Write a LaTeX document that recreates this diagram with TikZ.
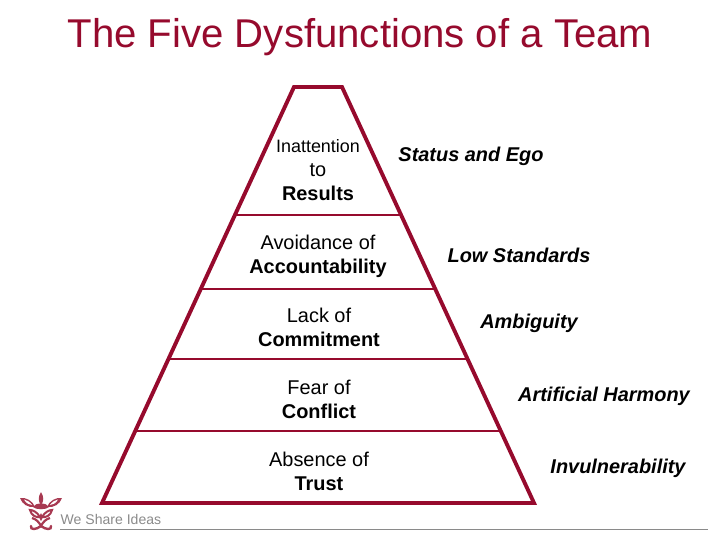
\documentclass[tikz,border=0pt]{standalone}
\usepackage{fontspec}
\setmainfont{Liberation Sans}
\definecolor{crim}{HTML}{960A2D}
\definecolor{logoc}{HTML}{A83A52}
\definecolor{greyt}{HTML}{8A8A8A}
\tikzset{
  wall/.style={draw=crim,line width=3.9pt,line join=miter},
  tier/.style={draw=crim,line width=2.9pt},
  lab/.style={align=center,font=\fontsize{20}{24}\selectfont,text=black,inner sep=0pt},
  side/.style={font=\fontsize{20}{24}\selectfont\bfseries\itshape,text=black,inner sep=0pt,anchor=base},
  petal/.style={fill=logoc,draw=none},
}
\begin{document}
\begin{tikzpicture}[x=1bp,y=-1bp]
\useasboundingbox (0,0) rectangle (720,540);
\node[font=\fontsize{40.3}{44}\selectfont,text=crim,inner sep=0pt] (title) at (360,37.5) {The Five Dysfunctions of a Team};
\coordinate (tl) at (294,87);
\coordinate (tr) at (342,87);
\coordinate (br) at (534,503);
\coordinate (bl) at (102,503);
\draw[wall] (tl) -- (tr) -- (br) -- (bl) -- cycle;
\coordinate (a1) at (236,215); \coordinate (a2) at (400,215);
\coordinate (b1) at (202,289); \coordinate (b2) at (434,289);
\coordinate (c1) at (169,359); \coordinate (c2) at (466,359);
\coordinate (d1) at (136,431); \coordinate (d2) at (499,431);
\draw[tier] (a1) -- (a2);
\draw[tier] (b1) -- (b2);
\draw[tier] (c1) -- (c2);
\draw[tier] (d1) -- (d2);
\node[lab] (n1) at (318,170.5) {{\fontsize{18}{24}\selectfont Inattention}\\to\\\textbf{Results}};
\node[lab] (n2) at (318,256.5) {Avoidance of\\\textbf{Accountability}};
\node[lab] (n3) at (319,327) {Lack of\\\textbf{Commitment}};
\node[lab] (n4) at (319,399) {Fear of\\\textbf{Conflict}};
\node[lab] (n5) at (319,471) {Absence of\\\textbf{Trust}};
\node[side] (s1) at (471,161.5) {Status and Ego};
\node[side] (s2) at (519,262.5) {Low Standards};
\node[side] (s3) at (529,328.5) {Ambiguity};
\node[side] (s4) at (604,401.5) {Artificial Harmony};
\node[side] (s5) at (618,473.5) {Invulnerability};
\coordinate (r1) at (60,529.5); \coordinate (r2) at (708,529.5);
\draw[draw=greyt,line width=0.8pt] (r1) -- (r2);
\node[font=\fontsize{14.1}{16}\selectfont,text=greyt,anchor=west,inner sep=0pt] (brand) at (60.5,519.5) {We Share Ideas};
% logo
\fill[petal] (41,492) .. controls (38,497) and (38,501) .. (41,505) .. controls (44,501) and (44,497) .. (41,492) -- cycle;
\fill[petal] (20,498) .. controls (26,497) and (33,501) .. (35,507) .. controls (28,508) and (22,504) .. (20,498) -- cycle;
\fill[petal] (62,498) .. controls (56,497) and (49,501) .. (47,507) .. controls (54,508) and (60,504) .. (62,498) -- cycle;
\fill[white] (24,499.5) .. controls (27,500) and (30,502) .. (32,505) .. controls (29,505) and (26,503) .. (24,499.5) -- cycle;
\fill[white] (58,499.5) .. controls (55,500) and (52,502) .. (50,505) .. controls (53,505) and (56,503) .. (58,499.5) -- cycle;
\fill[petal] (33,507) .. controls (36,502) and (46,502) .. (49,507) .. controls (46,510) and (36,510) .. (33,507) -- cycle;
\draw[logoc,line width=2pt] (30,510) .. controls (33,510) and (37,512) .. (40,517) .. controls (36,518) and (31,515) .. (30,510) -- cycle;
\draw[logoc,line width=2pt] (52,510) .. controls (49,510) and (45,512) .. (42,517) .. controls (46,518) and (51,515) .. (52,510) -- cycle;
\fill[petal] (41,513) -- (43,517) -- (41,521) -- (39,517) -- cycle;
\draw[logoc,line width=2.2pt] (32,518) .. controls (36,519) and (39,522) .. (41,526) .. controls (43,522) and (46,519) .. (50,518);
\draw[logoc,line width=2.4pt,line cap=round] (31,526) .. controls (30,530) and (36,530) .. (41,526) .. controls (46,530) and (52,530) .. (51,526);
\end{tikzpicture}
\end{document}
